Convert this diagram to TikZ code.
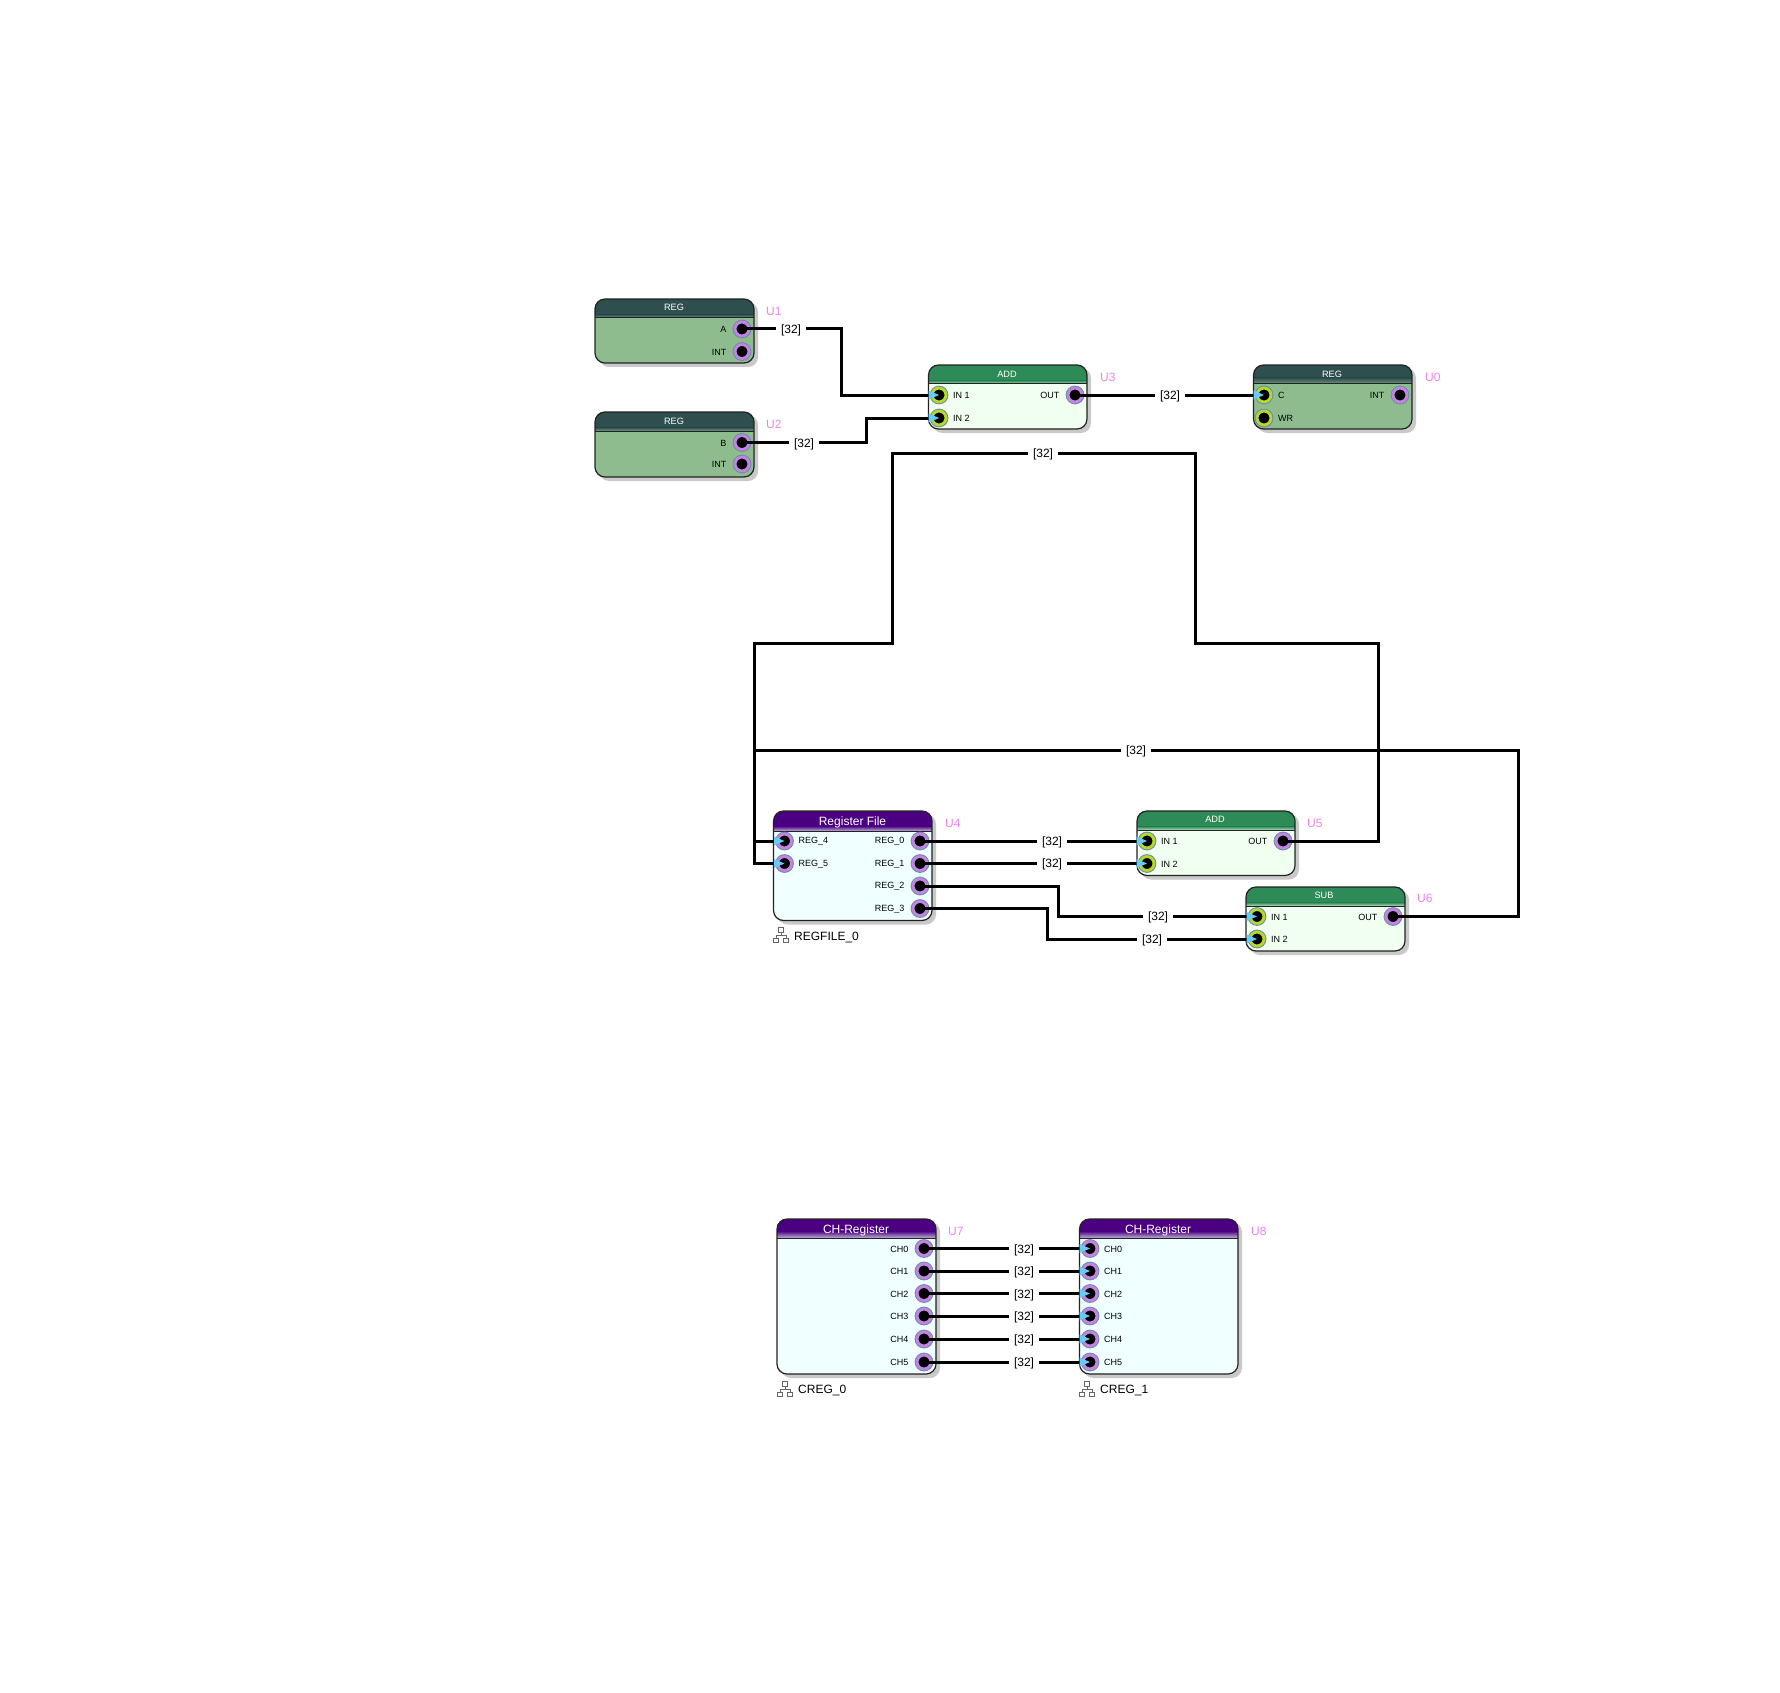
\documentclass[tikz,border=0pt]{standalone}
\usepackage{fontspec}
\setmainfont{Liberation Sans}
\newcommand{\fsz}[1]{\fontsize{#1}{#1}\selectfont}
\definecolor{regH}{HTML}{2F4F4F}
\definecolor{regB}{HTML}{8FBC8F}
\definecolor{addH}{HTML}{2E8B57}
\definecolor{addB}{HTML}{F0FFF0}
\definecolor{rfH}{HTML}{4B0082}
\definecolor{rfB}{HTML}{F0FFFF}
\definecolor{ringOut}{HTML}{C583E4}
\definecolor{ringIn}{HTML}{B4D92A}
\definecolor{halo}{HTML}{6F8DA8}
\definecolor{tipC}{HTML}{66CCF5}
\definecolor{idC}{HTML}{EE82EE}
\definecolor{shadowC}{HTML}{C9C9C9}
\definecolor{edgeC}{HTML}{222222}
\tikzset{
  portnode/.style={circle,draw=#1,fill=black,line width=2.8pt,minimum size=13.8pt,inner sep=0pt},
  wire/.style={draw=black,line width=3pt,miter limit=10},
  sig/.style={fill=white,text=black,font=\fsz{12},inner xsep=5pt,inner ysep=1pt},
  plabelR/.style={anchor=east,inner sep=0pt,text=black,font=\fsz{9},yshift=-0.7pt},
  plabelL/.style={anchor=west,inner sep=0pt,text=black,font=\fsz{9},yshift=-0.7pt},
  smalltitle/.style={inner sep=0pt,text=white,font=\fsz{9.2}},
  bigtitle/.style={inner sep=0pt,text=white,font=\fsz{12}},
  uid/.style={anchor=west,inner sep=0pt,text=idC,font=\fsz{12}},
  inst/.style={anchor=west,inner sep=0pt,text=black,font=\fsz{12}},
  tip/.style={fill=tipC,draw=none},
  icon/.style={draw=black!60,line width=0.9pt}
}
% #1 name #2 x1 #3 y1 #4 x2 #5 y2 #6 ybar #7 head #8 body #9 strip height
\newcommand{\block}[9]{%
  \fill[shadowC,rounded corners=10pt] (#2+4,#3+3) rectangle (#4+4,#5+4);
  \begin{scope}
    \clip[rounded corners=10pt] (#2,#3) rectangle (#4,#5);
    \fill[#8] (#2,#3) rectangle (#4,#5);
    \fill[#7] (#2,#3) rectangle (#4,#6-#9);
    \shade[top color=#7,bottom color=#8!70!#7] (#2,#6-#9) rectangle (#4,#6);
    \draw[edgeC,line width=1pt] (#2,#6) -- (#4,#6);
  \end{scope}
  \draw[edgeC,line width=1.2pt,rounded corners=10pt] (#2,#3) coordinate (#1-nw) rectangle (#4,#5) coordinate (#1-se);
}
\newcommand{\pout}[5]{% name x y label ring
  \fill[halo] (#2,#3) circle (9.4);
  \node[portnode=#5] (#1) at (#2,#3) {};
  \node[plabelR] (#1-t) at (#2-15.5,#3) {#4};
}
\newcommand{\pin}[5]{%
  \fill[halo] (#2,#3) circle (9.4);
  \node[portnode=#5] (#1) at (#2,#3) {};
  \node[plabelL] (#1-t) at (#2+14,#3) {#4};
}
\newcommand{\arrowtip}[1]{\fill[tip] (#1.center) ++(-10.5,-4.5) -- ++(0,9) -- ++(10.5,-4.5) -- cycle;}
\newcommand{\neticon}[2]{%
  \draw[icon] (#1-2.5,#2-7.5) rectangle (#1+2.5,#2-3);
  \draw[icon] (#1,#2-3) -- (#1,#2) (#1-5,#2+3) -- (#1-5,#2) -- (#1+5,#2) -- (#1+5,#2+3);
  \draw[icon] (#1-7.5,#2+3) rectangle (#1-2.5,#2+7.5);
  \draw[icon] (#1+2.5,#2+3) rectangle (#1+7.5,#2+7.5);
}
\begin{document}
\begin{tikzpicture}[x=1pt,y=-1pt]
\useasboundingbox (0,0) rectangle (1780,1693);
\fill[white] (0,0) rectangle (1780,1693);

% ---- blocks
\block{U1}{595}{299}{754}{363}{318}{regH}{regB}{3.5}
\block{U2}{595}{412}{754}{477}{431}{regH}{regB}{3.5}
\block{U3}{928.5}{365}{1087}{429}{384}{addH}{addB}{3.5}
\block{U0}{1253.5}{365}{1412}{429}{384}{regH}{regB}{6}
\block{U4}{773.5}{811}{932}{920.5}{831}{rfH}{rfB}{5}
\block{U5}{1137}{811}{1295}{875.5}{830}{addH}{addB}{3.5}
\block{U6}{1246}{887}{1405}{951}{906}{addH}{addB}{3.5}
\block{U7}{777}{1219}{936}{1374}{1238}{rfH}{rfB}{7}
\block{U8}{1079.5}{1219}{1238}{1374}{1238}{rfH}{rfB}{7}

% ---- titles
\node[smalltitle] (T1) at (674,307.5) {REG};
\node[smalltitle] (T2) at (674,421.5) {REG};
\node[smalltitle] (T3) at (1007,374) {ADD};
\node[smalltitle] (T0) at (1332,374) {REG};
\node[bigtitle] (T4) at (852.5,822) {Register File};
\node[smalltitle] (T5) at (1215,819.5) {ADD};
\node[smalltitle] (T6) at (1324,895) {SUB};
\node[bigtitle] (T7) at (856,1230) {CH-Register};
\node[bigtitle] (T8) at (1158,1230) {CH-Register};

% ---- instance ids
\node[uid] (I1) at (766,311) {U1};
\node[uid] (I2) at (766,424) {U2};
\node[uid] (I3) at (1100,377) {U3};
\node[uid] (I0) at (1425,377) {U0};
\node[uid] (I4) at (945,823) {U4};
\node[uid] (I5) at (1307,823) {U5};
\node[uid] (I6) at (1417,898) {U6};
\node[uid] (I7) at (948,1231) {U7};
\node[uid] (I8) at (1251,1231) {U8};

% ---- instance names
\neticon{781}{935}
\node[inst] (N4) at (794,937) {REGFILE\_0};
\neticon{785}{1389}
\node[inst] (N7) at (798,1390) {CREG\_0};
\neticon{1087}{1389}
\node[inst] (N8) at (1100,1390) {CREG\_1};

% ---- ports
\pout{U1a}{742}{329}{A}{ringOut}
\pout{U1i}{742}{351.5}{INT}{ringOut}
\pout{U2b}{742}{442.5}{B}{ringOut}
\pout{U2i}{742}{464}{INT}{ringOut}
\pin{U3a}{939}{395}{IN 1}{ringIn}
\pin{U3b}{939}{418}{IN 2}{ringIn}
\pout{U3o}{1075}{395}{OUT}{ringOut}
\pin{U0c}{1264}{395}{C}{ringIn}
\pin{U0w}{1264}{418}{WR}{ringIn}
\pout{U0i}{1400}{395}{INT}{ringOut}
\pin{U4e}{784.5}{841}{REG\_4}{ringOut}
\pin{U4f}{784.5}{863.5}{REG\_5}{ringOut}
\pout{U4a}{920}{841}{REG\_0}{ringOut}
\pout{U4b}{920}{863.5}{REG\_1}{ringOut}
\pout{U4c}{920}{886}{REG\_2}{ringOut}
\pout{U4d}{920}{908.5}{REG\_3}{ringOut}
\pin{U5a}{1147}{841}{IN 1}{ringIn}
\pin{U5b}{1147}{863.5}{IN 2}{ringIn}
\pout{U5o}{1283}{841}{OUT}{ringOut}
\pin{U6a}{1257}{916.5}{IN 1}{ringIn}
\pin{U6b}{1257}{939}{IN 2}{ringIn}
\pout{U6o}{1393}{916.5}{OUT}{ringOut}
\pout{U7a}{924}{1248.5}{CH0}{ringOut}
\pout{U7b}{924}{1271}{CH1}{ringOut}
\pout{U7c}{924}{1293.5}{CH2}{ringOut}
\pout{U7d}{924}{1316}{CH3}{ringOut}
\pout{U7e}{924}{1339}{CH4}{ringOut}
\pout{U7f}{924}{1362}{CH5}{ringOut}
\pin{U8a}{1090}{1248.5}{CH0}{ringOut}
\pin{U8b}{1090}{1271}{CH1}{ringOut}
\pin{U8c}{1090}{1293.5}{CH2}{ringOut}
\pin{U8d}{1090}{1316}{CH3}{ringOut}
\pin{U8e}{1090}{1339}{CH4}{ringOut}
\pin{U8f}{1090}{1362}{CH5}{ringOut}

% ---- bend points
\coordinate (b1) at (841,329);
\coordinate (b2) at (866,442.5);
\coordinate (r1) at (1378,841);
\coordinate (r2) at (1378,643.5);
\coordinate (r3) at (1195,643.5);
\coordinate (r4) at (1195,453);
\coordinate (r5) at (892,453);
\coordinate (r6) at (892,643.5);
\coordinate (r7) at (754,643.5);
\coordinate (r8) at (754,863.5);
\coordinate (s1) at (1518,916.5);
\coordinate (s2) at (1518,750);
\coordinate (s3) at (754,750);
\coordinate (s4) at (754,841);
\coordinate (t1) at (1058.5,886);
\coordinate (t2) at (1047,908.5);

% ---- wires
\draw[wire] (U1a.center) -- (b1) |- (U3a.center);
\draw[wire] (U2b.center) -- (b2) |- (U3b.center);
\draw[wire] (U3o.center) -- (U0c.center);
\draw[wire] (U4a.center) -- (U5a.center);
\draw[wire] (U4b.center) -- (U5b.center);
\draw[wire] (U4c.center) -- (t1) |- (U6a.center);
\draw[wire] (U4d.center) -- (t2) |- (U6b.center);
\draw[wire] (U5o.center) -- (r1) -- (r2) -- (r3) -- (r4) -- (r5) -- (r6) -- (r7) -- (r8) -- (U4f.center);
\draw[wire] (U6o.center) -- (s1) -- (s2) -- (s3) -- (s4) -- (U4e.center);
\draw[wire] (U7a.center) -- (U8a.center);
\draw[wire] (U7b.center) -- (U8b.center);
\draw[wire] (U7c.center) -- (U8c.center);
\draw[wire] (U7d.center) -- (U8d.center);
\draw[wire] (U7e.center) -- (U8e.center);
\draw[wire] (U7f.center) -- (U8f.center);

% ---- arrow tips
\foreach \p in {U3a,U3b,U0c,U4e,U4f,U5a,U5b,U6a,U6b,U8a,U8b,U8c,U8d,U8e,U8f}{\arrowtip{\p}}

% ---- signal labels
\node[sig] (L1) at (791,330) {[32]};
\node[sig] (L2) at (804,444) {[32]};
\node[sig] (L3) at (1170,396) {[32]};
\node[sig] (L4) at (1043,454) {[32]};
\node[sig] (L5) at (1136,751) {[32]};
\node[sig] (L6) at (1052,842) {[32]};
\node[sig] (L7) at (1052,864.5) {[32]};
\node[sig] (L8) at (1158,917.5) {[32]};
\node[sig] (L9) at (1152,940) {[32]};
\node[sig] (La) at (1024,1250) {[32]};
\node[sig] (Lb) at (1024,1272.5) {[32]};
\node[sig] (Lc) at (1024,1295) {[32]};
\node[sig] (Ld) at (1024,1317.5) {[32]};
\node[sig] (Le) at (1024,1340) {[32]};
\node[sig] (Lf) at (1024,1363) {[32]};
\end{tikzpicture}
\end{document}
